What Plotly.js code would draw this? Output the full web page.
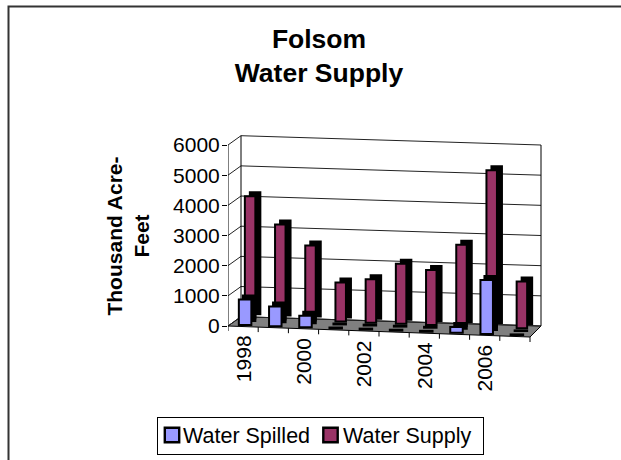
<!DOCTYPE html>
<html><head><meta charset="utf-8">
<script src="https://cdn.plot.ly/plotly-3.0.1.min.js"></script>
<style>html,body{margin:0;padding:0;background:#fff}</style></head>
<body><div id="chart" style="width:621px;height:460px"></div>
<script>
const years = [1998,1999,2000,2001,2002,2003,2004,2005,2006,2007];
const waterSpilled = [850,650,380,30,30,30,30,190,1790,20];
const waterSupply = [4050,3150,2490,1300,1440,1990,1820,2690,5200,1550];
const valueTicks = [0,1000,2000,3000,4000,5000,6000];
const yearLabels = ["1998","2000","2002","2004","2006"];

const W = 621, H = 460, FONT = '"Liberation Sans", Arial, sans-serif';
const pxPerYear = 30.2, pxPerUnit = 181/6000;
const px = {left:228, right:560, top:112, bottom:360, zero:326};
const xStart = 1997.5, xEnd = 2007.5;
const yrs = p => p/pxPerYear, val = p => p/pxPerUnit;
const floorAt = x => -(x-xStart)*val(1.1);
const backL = xStart+yrs(13), backR = xEnd+yrs(11);
const backLift = val(9.3);
const colorSpilled = '#9999FF', colorSupply = '#993366', ink = '#000000';

function seg(x0,y0,x1,y1,color,w){return {type:'line',xref:'x',yref:'y',x0,y0,x1,y1,layer:'below',line:{color:color||ink,width:w||1}};}
const shapes = [];
shapes.push({type:'rect',xref:'paper',yref:'paper',x0:8.5/W,x1:640/W,y0:1-480/H,y1:1-6.5/H,line:{color:'#333',width:2},layer:'below'});
shapes.push({type:'path',xref:'x',yref:'y',layer:'below',fillcolor:'#808080',line:{color:ink,width:1},
  path:`M${xStart},0 L${backL},${backLift} L${backR},0 L${xEnd},${floorAt(xEnd)} Z`});
valueTicks.forEach(v=>{
  shapes.push(seg(backL,v+backLift,backR,v,'#222'));
  shapes.push(seg(xStart,v,backL,v+backLift,'#222'));
});
shapes.push(seg(xStart,0,xStart,6000));
shapes.push(seg(backL,backLift,backL,6000+backLift));
shapes.push(seg(backR,0,backR,6000));
for(let i=0;i<=years.length;i++){
  const x=xStart+i; shapes.push(seg(x,floorAt(x),x,floorAt(x)-val(5)));
}

const spillX = years.map(y=>y+yrs(2)), supplyX = years.map(y=>y+yrs(7));
const spillBase = spillX.map(x=>floorAt(x)+val(1.5)), supplyBase = supplyX.map(x=>floorAt(x)+val(8.5));
const add=(a,d)=>a.map(v=>v+d);
const blk={color:ink,line:{color:ink,width:2}};
const traces=[
 {type:'bar',x:add(supplyX,yrs(5)),y:waterSupply,base:add(supplyBase,val(4)),width:yrs(10.5),marker:blk,showlegend:false,hoverinfo:'skip'},
 {type:'bar',name:'Water Supply',legendrank:2,x:supplyX,y:waterSupply,base:supplyBase,width:yrs(10.5),marker:{color:colorSupply,line:{color:ink,width:2}}},
 {type:'bar',x:add(spillX,yrs(4)),y:waterSpilled,base:add(spillBase,val(4)),width:yrs(12.5),marker:blk,showlegend:false,hoverinfo:'skip'},
 {type:'bar',name:'Water Spilled',legendrank:1,x:spillX,y:waterSpilled,base:spillBase,width:yrs(12.5),marker:{color:colorSpilled,line:{color:ink,width:2}}}
];
const annotations = yearLabels.map(t=>{const x=+t;return {text:t,xref:'x',yref:'y',x,y:floorAt(x)-val(7),xanchor:'center',yanchor:'top',textangle:-90,showarrow:false,font:{family:FONT,size:21,color:ink}};});

const layout={
 width:W,height:H,margin:{l:0,r:0,t:0,b:0},paper_bgcolor:'#fff',plot_bgcolor:'rgba(0,0,0,0)',
 barmode:'overlay',hovermode:false,font:{family:FONT,color:ink},
 title:{text:'<b>Folsom</b><br><b>Water Supply</b>',font:{family:FONT,size:26.5,color:ink},x:319/W,xanchor:'center',y:1-48/H,yanchor:'top'},
 xaxis:{domain:[px.left/W,px.right/W],range:[xStart,xStart+yrs(px.right-px.left)],showgrid:false,zeroline:false,showline:false,ticks:'',showticklabels:false},
 yaxis:{domain:[1-px.bottom/H,1-px.top/H],range:[-val(px.bottom-px.zero),val(px.zero-px.top)],tickvals:valueTicks,ticks:'outside',ticklen:5,tickcolor:ink,ticklabelstandoff:-2,
   showgrid:false,zeroline:false,showline:false,tickfont:{family:FONT,size:21,color:ink},
   title:{text:'<b>Thousand Acre-</b><br><b>Feet</b>',font:{family:FONT,size:21,color:ink},standoff:17}},
 legend:{orientation:'h',x:157/W,xanchor:'left',y:1-417/H,yanchor:'top',bgcolor:'#fff',bordercolor:ink,borderwidth:1,font:{family:FONT,size:21.5,color:ink}},
 shapes,annotations
};
// Tighten the legend entries: Plotly has a 30px minimum swatch column.
const legendSlots = {'Water Spilled':{group:0,swatch:15,text:26},'Water Supply':{group:158,swatch:15.5,text:28}};
Plotly.newPlot('chart',traces,layout,{displayModeBar:false,staticPlot:true}).then(()=>{
  const bg=document.querySelector('#chart .legend .bg');
  bg.setAttribute('width',326); bg.setAttribute('height',37);
  document.querySelectorAll('#chart .legend .traces').forEach(tr=>{
    const txt=tr.querySelector('.legendtext');
    const slot=legendSlots[txt.textContent];
    if(!slot) return;
    tr.setAttribute('transform',`translate(${slot.group},18)`);
    txt.setAttribute('x',slot.text);
    tr.querySelectorAll('.legendsymbols path').forEach(p=>p.setAttribute('transform',`translate(${slot.swatch},0) scale(1.2)`));
  });
});
</script></body></html>
